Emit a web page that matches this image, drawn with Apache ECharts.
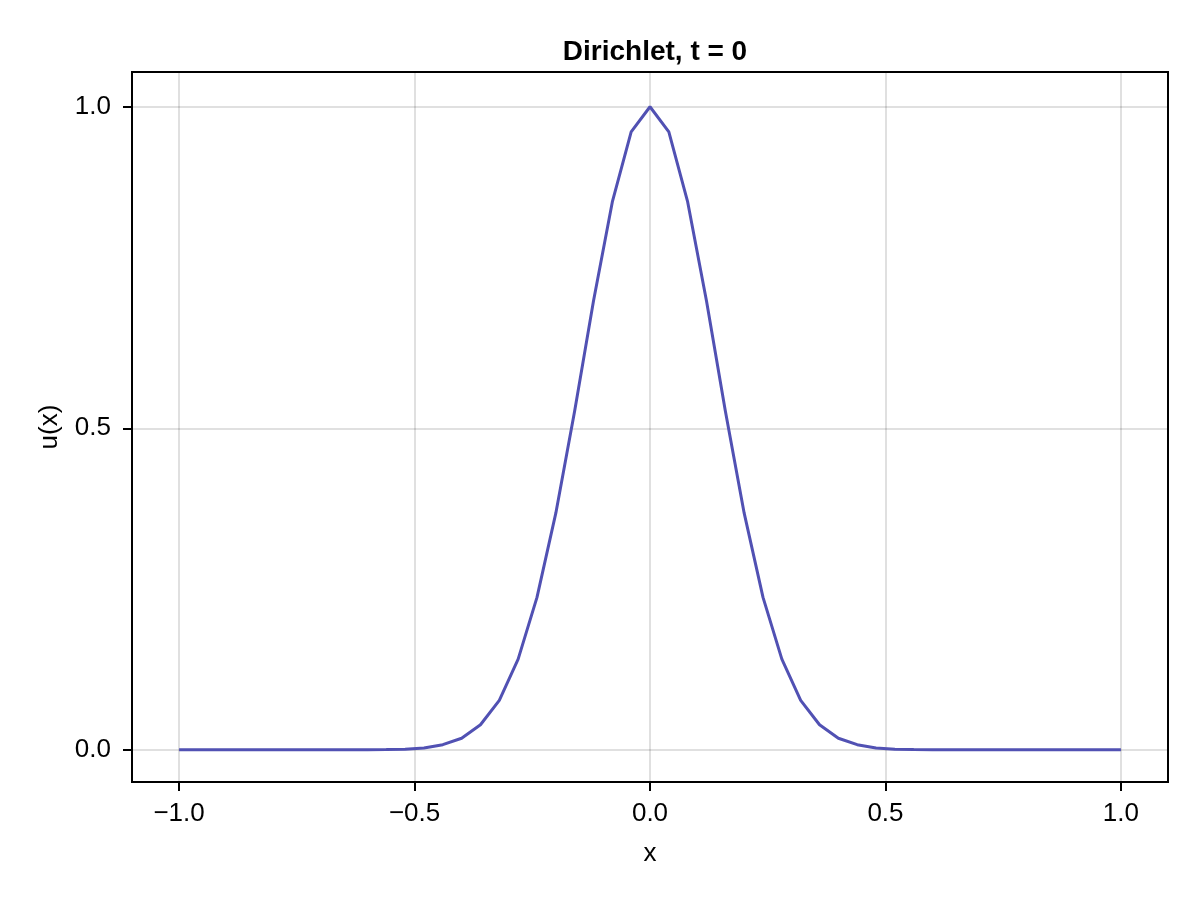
<!DOCTYPE html>
<html>
<head>
<meta charset="utf-8">
<script src="https://cdn.jsdelivr.net/npm/echarts@6/dist/echarts.min.js"></script>
<style>html,body{margin:0;padding:0;background:#fff;}#c{width:1200px;height:900px;}</style>
</head>
<body>
<div id="c"></div>
<script>
const xValues = [-1.00,-0.96,-0.92,-0.88,-0.84,-0.80,-0.76,-0.72,-0.68,-0.64,-0.60,-0.56,-0.52,-0.48,-0.44,-0.40,-0.36,-0.32,-0.28,-0.24,-0.20,-0.16,-0.12,-0.08,-0.04,0.00,0.04,0.08,0.12,0.16,0.20,0.24,0.28,0.32,0.36,0.40,0.44,0.48,0.52,0.56,0.60,0.64,0.68,0.72,0.76,0.80,0.84,0.88,0.92,0.96,1.00];
const uValues = [0,0,0,0,0,0,0,0,0,0,0.0001,0.0004,0.001,0.003,0.008,0.018,0.039,0.077,0.141,0.237,0.368,0.527,0.698,0.852,0.961,1.000,0.961,0.852,0.698,0.527,0.368,0.237,0.141,0.077,0.039,0.018,0.008,0.003,0.001,0.0004,0.0001,0,0,0,0,0,0,0,0,0,0];
const xTicks = [-1.0,-0.5,0.0,0.5,1.0];
const yTicks = [0.0,0.5,1.0];
const titleText = 'Dirichlet, t = 0';
const xName = 'x';
const yName = 'u(x)';

const font = 'Liberation Sans, Arial, sans-serif';
const chart = echarts.init(document.getElementById('c'), null, {renderer:'canvas'});
const fmt = v => { const s = (Math.round(v*10)/10).toFixed(1); return s.replace('-', '\u2212'); };
chart.setOption({
  animation:false,
  backgroundColor:'#fff',
  title:{text:titleText,left:650,textAlign:'center',top:33,textStyle:{fontFamily:font,fontSize:28,fontWeight:'bold',color:'#000'}},
  grid:{left:132,right:32,top:72,bottom:118,show:true,borderColor:'#000',borderWidth:2,backgroundColor:'transparent'},
  xAxis:{type:'value',min:-1.1,max:1.1,name:xName,nameLocation:'middle',nameGap:59,
    nameTextStyle:{fontFamily:font,fontSize:26,color:'#000'},
    axisLine:{show:false,onZero:false},
    axisTick:{show:true,inside:false,length:9,customValues:xTicks,lineStyle:{color:'#000',width:2}},
    axisLabel:{customValues:xTicks,formatter:fmt,fontFamily:font,fontSize:26,color:'#000',margin:19},
    splitLine:{show:true,lineStyle:{color:'rgba(0,0,0,0.12)',width:2}}},
  yAxis:{type:'value',min:-0.05,max:1.054,name:yName,nameLocation:'middle',nameGap:69,nameRotate:90,
    nameTextStyle:{fontFamily:font,fontSize:26,color:'#000'},
    axisLine:{show:false,onZero:false},
    axisTick:{show:true,inside:false,length:9,customValues:yTicks,lineStyle:{color:'#000',width:2}},
    axisLabel:{customValues:yTicks,formatter:fmt,fontFamily:font,fontSize:26,color:'#000',margin:21},
    splitLine:{show:true,lineStyle:{color:'rgba(0,0,0,0.12)',width:2}}},
  series:[{type:'line',data:xValues.map((x,i)=>[x,uValues[i]]),showSymbol:false,
    lineStyle:{color:'#5151b3',width:3},itemStyle:{color:'#5151b3'}}]
});
</script>
</body>
</html>
